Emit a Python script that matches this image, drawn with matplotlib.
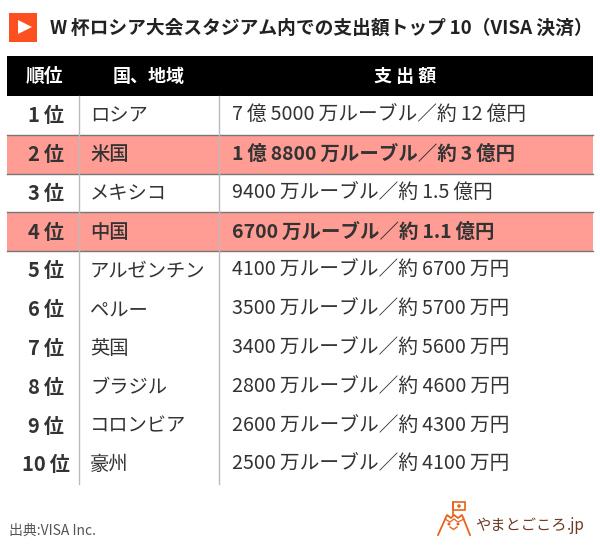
import matplotlib
matplotlib.use('Agg')
import matplotlib.pyplot as plt
from matplotlib.patches import Rectangle, Polygon, Circle

plt.rcParams['font.family'] = ['Noto Sans CJK JP', 'DejaVu Sans']

title = 'W\u2009杯ロシア大会スタジアム内での支出額トップ\u200910（VISA 決済）'
headers = ['順位', '国、地域', '支 出 額']
ranks = ['1\u2009位', '2\u2009位', '3\u2009位', '4\u2009位', '5\u2009位', '6\u2009位', '7\u2009位', '8\u2009位', '9\u2009位', '10\u2009位']
countries = ['ロシア', '米国', 'メキシコ', '中国', 'アルゼンチン', 'ペルー', '英国', 'ブラジル', 'コロンビア', '豪州']
amounts = ['7\u2009億\u20095000\u2009万ルーブル／約\u200912\u2009億円',
           '1\u2009億\u20098800\u2009万ルーブル／約\u20093\u2009億円',
           '9400\u2009万ルーブル／約\u20091.5\u2009億円',
           '6700\u2009万ルーブル／約\u20091.1\u2009億円',
           '4100\u2009万ルーブル／約\u20096700\u2009万円',
           '3500\u2009万ルーブル／約\u20095700\u2009万円',
           '3400\u2009万ルーブル／約\u20095600\u2009万円',
           '2800\u2009万ルーブル／約 4600\u2009万円',
           '2600\u2009万ルーブル／約\u20094300\u2009万円',
           '2500\u2009万ルーブル／約\u20094100\u2009万円']
highlight = [1, 3]

fig = plt.figure(figsize=(6, 5.5), dpi=100)
ax = fig.add_axes([0, 0, 1, 1])
ax.set_xlim(0, 600)
ax.set_ylim(550, 0)
ax.axis('off')

dark = '#333333'
orange = '#e8641b'

# title marker
ax.add_patch(Rectangle((9, 13), 28, 29, color='#fc5020', lw=0))
ax.add_patch(Polygon([[18, 20], [18, 34], [32, 27]], color='white', lw=0))
ax.text(50, 28, title, fontsize=13.5, fontweight='bold', color='#222222', va='center')

# header
ax.add_patch(Rectangle((7, 56), 586, 40, color='black', lw=0))
ax.text(44, 77, headers[0], color='white', fontsize=13.5, fontweight='bold', ha='center', va='center')
ax.text(149, 77, headers[1], color='white', fontsize=13, fontweight='bold', ha='center', va='center')
ax.text(405, 77, headers[2], color='white', fontsize=13, fontweight='bold', ha='center', va='center')

# rows
top = 96
h = 38.8
for i in range(len(ranks)):
    y0 = top + i * h
    yc = y0 + h / 2 + 0.3
    hl = i in highlight
    if hl:
        ax.add_patch(Rectangle((7, y0), 586, h, color='#ff9c94', lw=0, zorder=0))
        ax.plot([7, 593], [y0, y0], color='#777777', lw=1, zorder=1)
        ax.plot([7, 593], [y0 + h, y0 + h], color='#777777', lw=1, zorder=1)
    ax.text(46, yc, ranks[i], fontsize=14.5, fontweight='bold', color=dark, ha='center', va='center')
    ax.text(90, yc, countries[i], fontsize=13.9, fontweight='medium' if hl else 'normal', color=dark, va='center')
    ax.text(232, yc, amounts[i], fontsize=14 if hl else 14.2, fontweight='bold' if hl else 'normal', color=dark, va='center')

for x in [79, 219]:
    ax.plot([x, x], [96, 484], color='#bbbbbb', lw=1, zorder=1)

# source
ax.text(9, 531, '出典:VISA Inc.', fontsize=10, color='#555555', va='center')

# logo
ax.plot([438, 447, 451, 454, 458, 462, 470], [535, 515, 518, 515, 518, 515, 535], color=orange, lw=1.3)
ax.plot([445, 450, 454, 458, 464], [519, 522, 519, 522, 519], color=orange, lw=0.9)
ax.plot([453, 453], [502, 515], color=orange, lw=1.2)
ax.add_patch(Rectangle((453, 502), 12, 8, fill=False, ec=orange, lw=1.2))
ax.add_patch(Circle((459, 506), 1.8, color=orange, lw=0))
ax.add_patch(Circle((449, 524), 1.5, color=orange, lw=0))
ax.add_patch(Circle((458, 524), 1.5, color=orange, lw=0))
ax.plot([450, 453.5, 457], [527, 529.5, 527], color=orange, lw=1)
ax.text(475, 525, 'やまとごころ', fontsize=11, color='#6b3a22', va='center')
ax.text(567, 525, '.jp', fontsize=11, color='#6b3a22', va='center')

fig.savefig('out.png', dpi=100)
